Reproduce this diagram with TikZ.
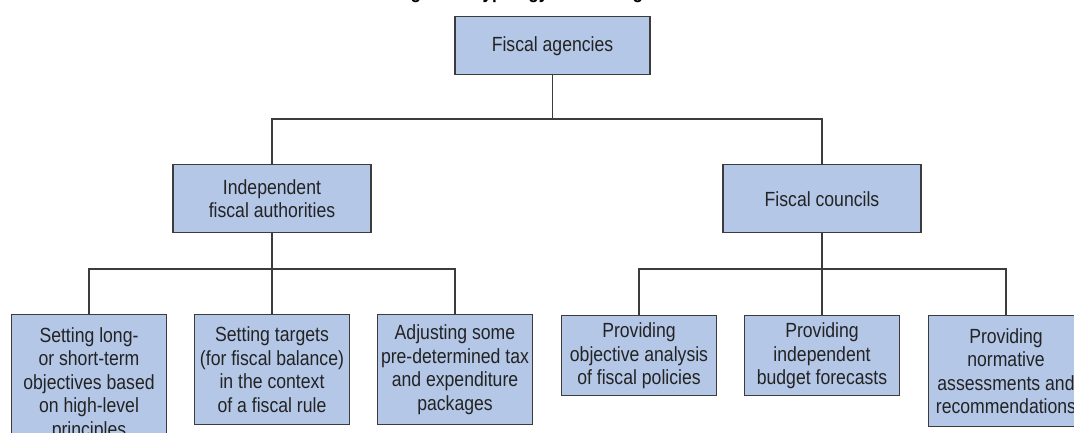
\documentclass[tikz,border=0pt]{standalone}
\usepackage{fontspec}
\setmainfont{Liberation Sans}[FakeStretch=0.86]
\usetikzlibrary{positioning}
\definecolor{boxfill}{RGB}{180,199,231}
\definecolor{boxline}{RGB}{60,60,60}
\definecolor{textgray}{RGB}{35,35,35}
\begin{document}
\begin{tikzpicture}[
			x=1pt, y=-1pt,
			BoxStyle/.style={draw=boxline, fill=boxfill, line width=1.4pt, text=textgray,
				align=center, anchor=north, inner sep=0pt, minimum width=155pt,
				font=\fontsize{20.5}{23.5}\selectfont},
			LinkStyle/.style={draw=boxline, line width=1.2pt}]
		\useasboundingbox (0,0) rectangle (1074,432);
		\begin{scope}
			\clip (0,0) rectangle (1074,432);
			\node [font=\bfseries\fontsize{20}{24}\selectfont, anchor=base] (Title) at (546,-1.5) {Figure 1. Typology of fiscal agencies};
			\node [BoxStyle, minimum width=195pt, minimum height=58pt] (Agencies) at (552.5,16) {Fiscal agencies};
			\node [BoxStyle, minimum width=198pt, minimum height=68pt] (Authorities) at (272,164) {Independent\\fiscal authorities};
			\node [BoxStyle, minimum width=198pt, minimum height=68pt] (Councils) at (822,164) {Fiscal councils};
			\node [BoxStyle, minimum height=138pt] (LongTerm) at (89,314) {Setting long-\\or short-term\\objectives based\\on high-level\\principles};
			\node [BoxStyle, minimum height=110pt] (Targets) at (272,314) {Setting targets\\(for fiscal balance)\\in the context\\of a fiscal rule};
			\node [BoxStyle, minimum height=110pt] (Packages) at (455,314) {Adjusting some\\pre-determined tax\\and expenditure\\packages};
			\node [BoxStyle, minimum height=80pt] (Analysis) at (639,315) {Providing\\objective analysis\\of fiscal policies};
			\node [BoxStyle, minimum height=80pt] (Forecasts) at (822,315) {Providing\\independent\\budget forecasts};
			\node [BoxStyle, minimum height=111pt] (Normative) at (1006,315) {Providing\\normative\\assessments and\\recommendations};
			\coordinate (TopBar) at (552.5,119);
			\coordinate (LeftBar) at (272,269);
			\coordinate (RightBar) at (822,269);
			\draw [LinkStyle] (Agencies.south) -- (TopBar);
			\draw [LinkStyle] (Authorities.north) |- (TopBar) -| (Councils.north);
			\draw [LinkStyle] (Authorities.south) -- (LeftBar);
			\draw [LinkStyle] (LongTerm.north) |- (LeftBar) -| (Packages.north);
			\draw [LinkStyle] (LeftBar) -- (Targets.north);
			\draw [LinkStyle] (Councils.south) -- (RightBar);
			\draw [LinkStyle] (Analysis.north) |- (RightBar) -| (Normative.north);
			\draw [LinkStyle] (RightBar) -- (Forecasts.north);
		\end{scope}
\end{tikzpicture}
\end{document}
